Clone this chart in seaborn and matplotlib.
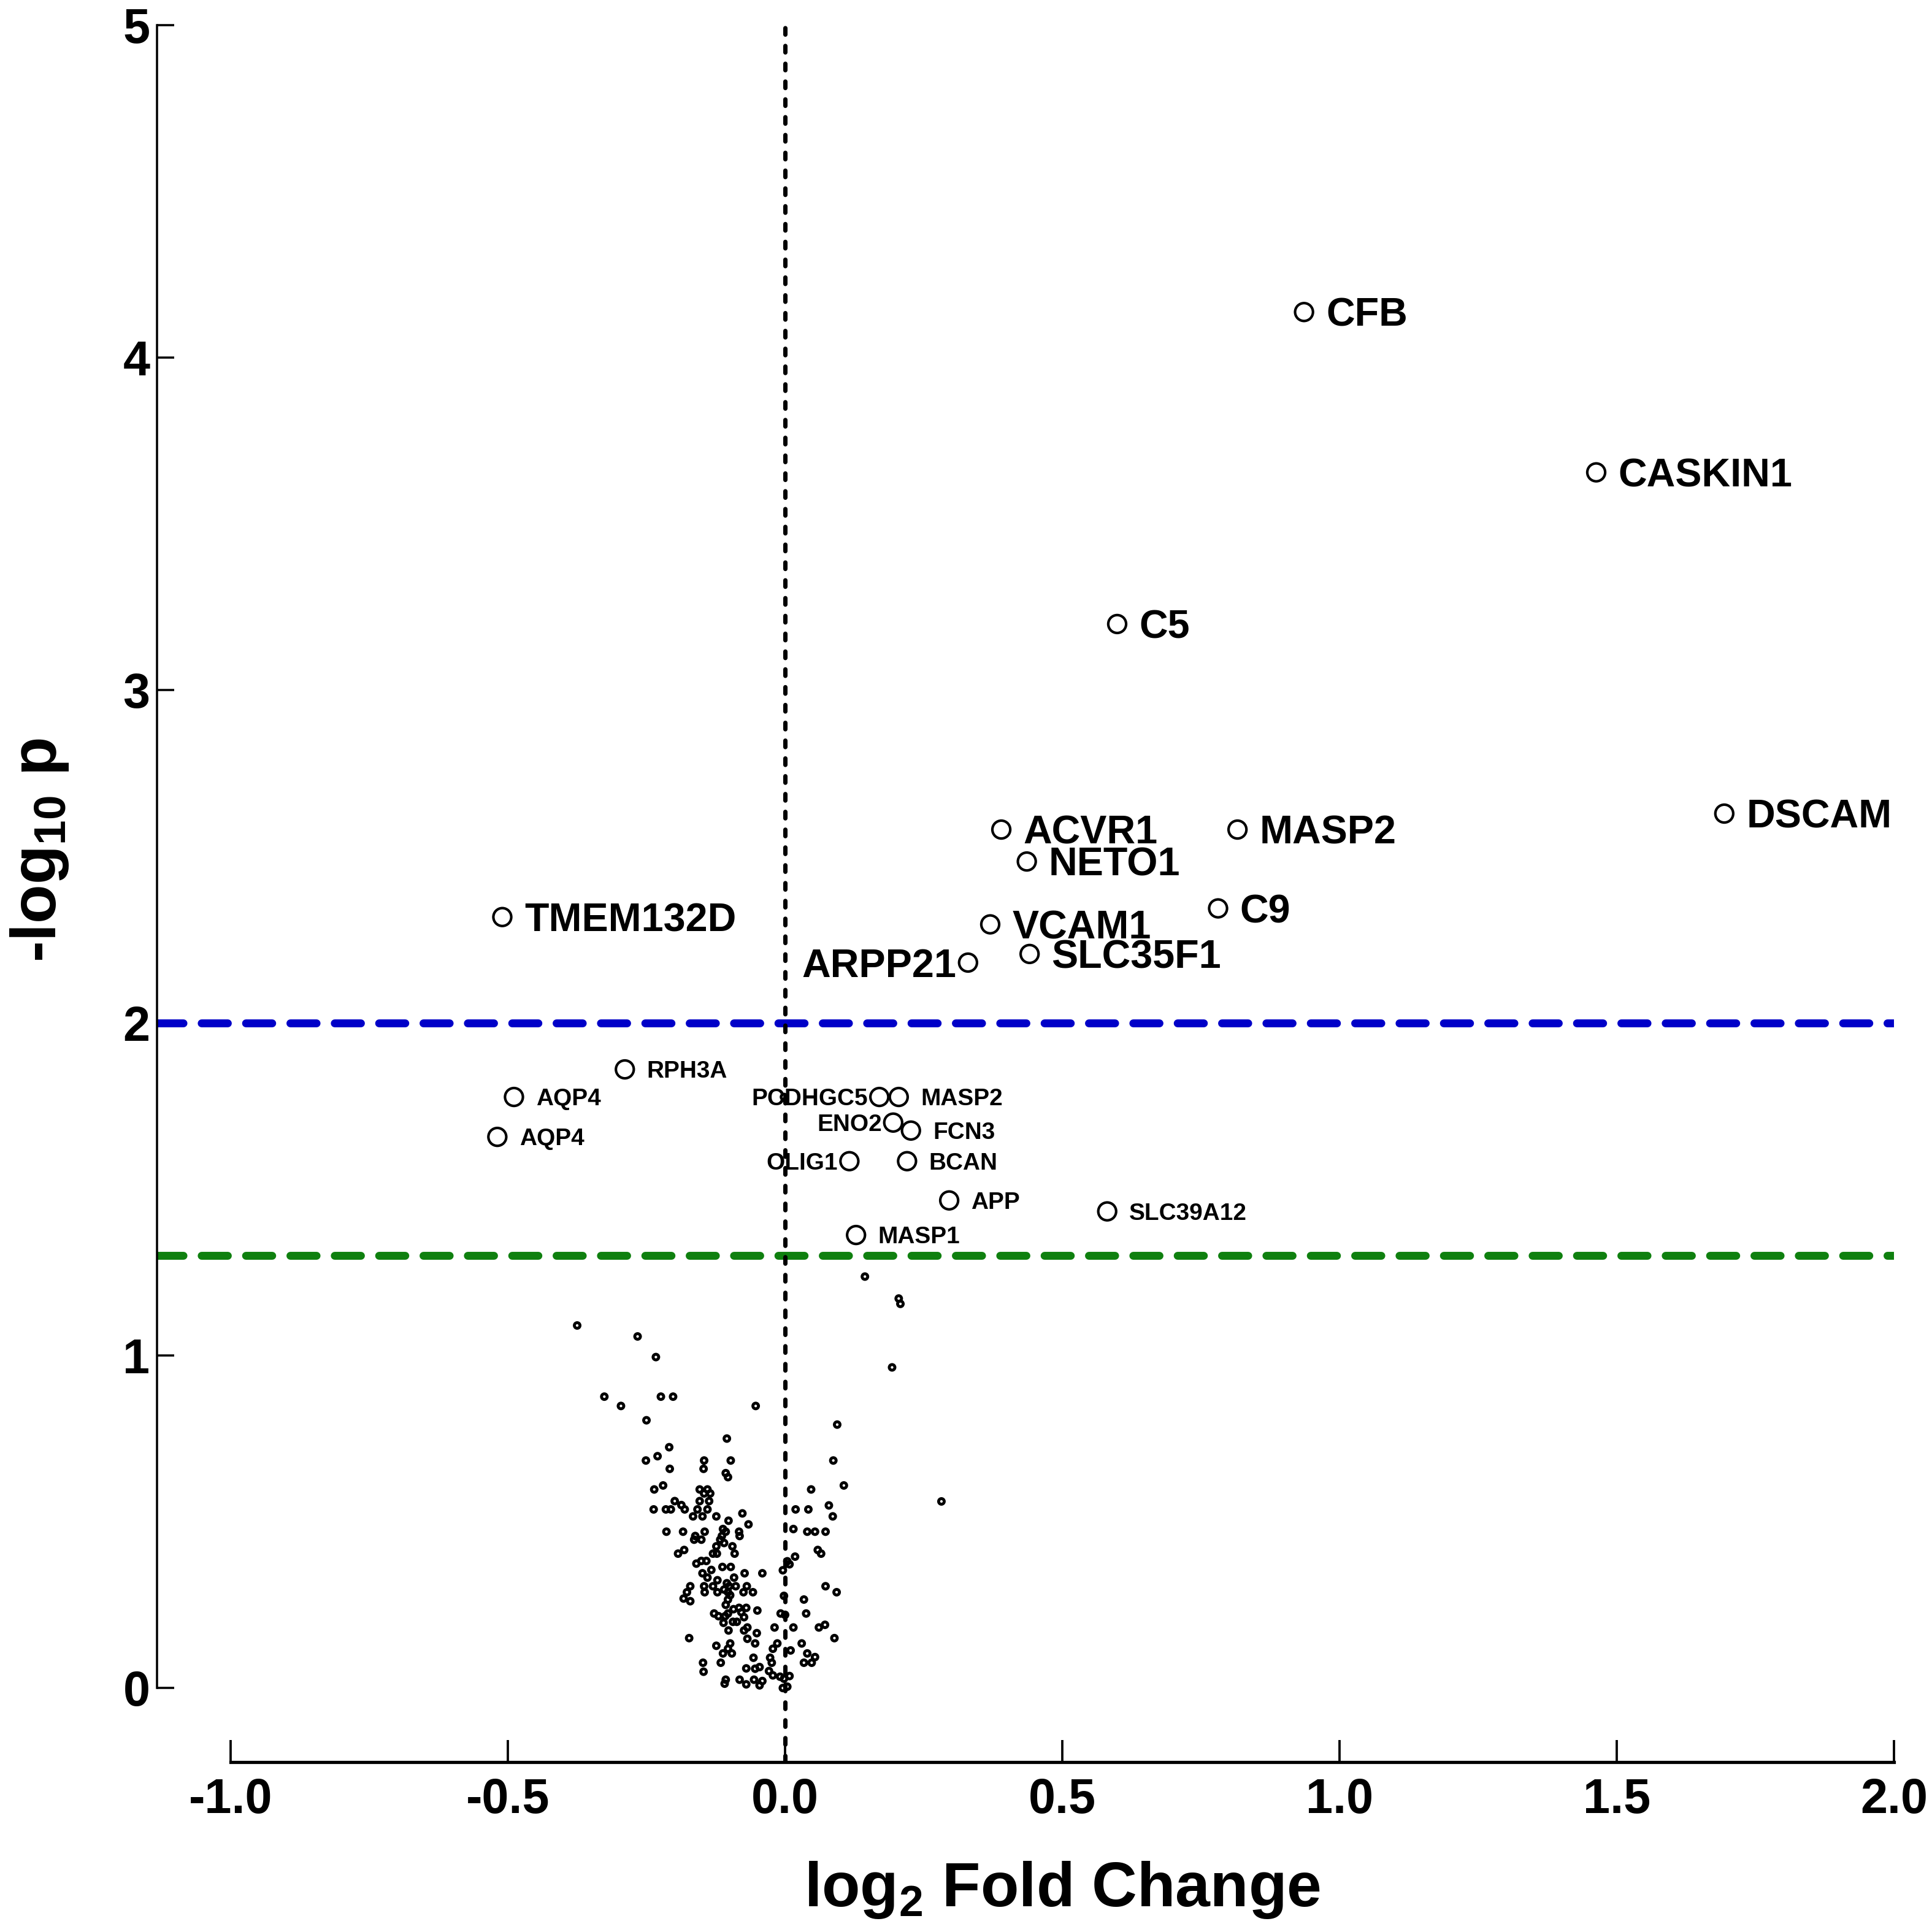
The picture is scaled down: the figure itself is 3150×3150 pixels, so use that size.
import numpy as np
import pandas as pd
import matplotlib
matplotlib.use("Agg")
import matplotlib.pyplot as plt
import seaborn as sns

# ---------------- data ----------------
sig_genes = ["CFB", "CASKIN1", "C5", "DSCAM", "ACVR1", "MASP2", "NETO1", "C9",
             "TMEM132D", "VCAM1", "SLC35F1", "ARPP21",
             "RPH3A", "AQP4", "AQP4", "PCDHGC5", "MASP2", "ENO2", "FCN3",
             "OLIG1", "BCAN", "APP", "SLC39A12", "MASP1"]
sig_lfc = [0.936, 1.463, 0.599, 1.694, 0.390, 0.816, 0.436, 0.781,
           -0.510, 0.370, 0.441, 0.330,
           -0.289, -0.489, -0.519, 0.170, 0.205, 0.195, 0.227,
           0.116, 0.220, 0.296, 0.581, 0.128]
sig_logp = [4.137, 3.655, 3.199, 2.629, 2.581, 2.581, 2.485, 2.344,
            2.318, 2.296, 2.207, 2.181,
            1.860, 1.777, 1.657, 1.777, 1.777, 1.700, 1.676,
            1.584, 1.584, 1.466, 1.433, 1.362]
label_side = ["r", "r", "r", "r", "r", "r", "r", "r",
              "r", "r", "r", "l",
              "r", "r", "r", "l", "r", "l", "r",
              "l", "r", "r", "r", "r"]
label_big = [True] * 12 + [False] * 12

bg_lfc = [-0.002,
          0.144, 0.205, 0.208, 0.193, -0.375, -0.266, -0.233, -0.326, -0.296,
          -0.224, -0.202, -0.053, -0.250, 0.094, -0.105, -0.209, -0.230, -0.251,
          -0.146, -0.098, 0.087, -0.208, -0.147, -0.107, -0.103, -0.236, -0.220,
          0.106, 0.047, 0.282, -0.154, -0.140, -0.146, -0.135, -0.154, -0.137,
          -0.237, -0.215, -0.206, -0.199, -0.187, -0.181, -0.158, -0.140, -0.166,
          -0.149, -0.124, -0.077, 0.019, 0.042, 0.079, 0.086, -0.102, -0.066,
          -0.214, -0.184, -0.145, -0.112, -0.107, -0.083, -0.082, 0.015, 0.040,
          0.054, 0.073, -0.162, -0.164, -0.151, -0.114, -0.117, -0.110, -0.095,
          -0.124, -0.091, -0.130, -0.123, -0.182, -0.193, 0.059, 0.065, 0.018,
          0.004, 0.008, -0.004, -0.160, -0.151, -0.142, -0.113, -0.098, -0.133,
          -0.149, -0.140, -0.122, -0.092, -0.073, -0.041, -0.171, -0.177, -0.183,
          -0.171, -0.146, -0.145, -0.130, -0.122, -0.105, -0.101, -0.110, -0.089,
          -0.103, -0.099, -0.103, -0.107, -0.069, -0.075, -0.058, -0.002, 0.073,
          0.093, 0.034, 0.038, -0.128, -0.120, -0.108, -0.103, -0.093, -0.083,
          -0.070, -0.079, -0.074, -0.087, -0.094, -0.111, -0.102, -0.050, -0.008,
          0.000, -0.019, 0.015, 0.061, 0.072, -0.074, -0.068, -0.051, -0.068,
          0.089, -0.173, -0.124, -0.099, -0.103, -0.112, -0.096, -0.054, -0.022,
          -0.014, 0.010, 0.030, 0.040, 0.054, 0.034, 0.048, -0.057, -0.027,
          -0.024, -0.148, -0.147, -0.116, -0.070, -0.054, -0.046, -0.029, -0.022,
          -0.009, -0.002, 0.008, -0.107, -0.109, -0.082, -0.070, -0.056, -0.046,
          -0.041, -0.004, 0.004]
bg_logp = [1.777,
           1.237, 1.171, 1.155, 0.964, 1.090, 1.057, 0.995, 0.876, 0.848,
           0.876, 0.876, 0.848, 0.805, 0.792, 0.750, 0.724, 0.697, 0.684,
           0.684, 0.684, 0.684, 0.659, 0.659, 0.646, 0.634, 0.597, 0.609,
           0.609, 0.597, 0.561, 0.597, 0.597, 0.585, 0.585, 0.562, 0.562,
           0.537, 0.537, 0.537, 0.562, 0.550, 0.537, 0.537, 0.537, 0.516,
           0.516, 0.516, 0.525, 0.537, 0.537, 0.549, 0.516, 0.503, 0.492,
           0.470, 0.470, 0.470, 0.478, 0.470, 0.470, 0.457, 0.478, 0.470,
           0.470, 0.470, 0.457, 0.446, 0.446, 0.457, 0.446, 0.436, 0.426,
           0.426, 0.404, 0.404, 0.404, 0.415, 0.404, 0.415, 0.404, 0.395,
           0.381, 0.372, 0.354, 0.374, 0.382, 0.382, 0.364, 0.364, 0.355,
           0.345, 0.332, 0.324, 0.332, 0.345, 0.345, 0.306, 0.288, 0.269,
           0.261, 0.306, 0.288, 0.306, 0.288, 0.315, 0.306, 0.296, 0.306,
           0.288, 0.279, 0.266, 0.250, 0.306, 0.288, 0.288, 0.277, 0.306,
           0.288, 0.266, 0.224, 0.224, 0.216, 0.216, 0.224, 0.237, 0.241,
           0.241, 0.228, 0.213, 0.199, 0.199, 0.196, 0.173, 0.233, 0.224,
           0.220, 0.182, 0.182, 0.182, 0.190, 0.173, 0.182, 0.165, 0.148,
           0.150, 0.150, 0.127, 0.134, 0.118, 0.104, 0.104, 0.134, 0.118,
           0.134, 0.113, 0.134, 0.104, 0.093, 0.076, 0.076, 0.091, 0.091,
           0.076, 0.076, 0.049, 0.076, 0.059, 0.058, 0.063, 0.051, 0.038,
           0.034, 0.028, 0.036, 0.025, 0.013, 0.025, 0.011, 0.025, 0.008,
           0.021, 0.000, 0.004]

x_ticks = [-1.0, -0.5, 0.0, 0.5, 1.0, 1.5, 2.0]
x_tick_labels = ["-1.0", "-0.5", "0.0", "0.5", "1.0", "1.5", "2.0"]
y_ticks = [0, 1, 2, 3, 4, 5]
y_tick_labels = ["0", "1", "2", "3", "4", "5"]
thresholds = [2.0, 1.301]
threshold_colors = ["#0000C8", "#0F800F"]

# ---------------- style ----------------
sns.set_style("ticks")
plt.rcParams["font.family"] = ["Liberation Sans", "DejaVu Sans"]
plt.rcParams["font.weight"] = "bold"
plt.rcParams["mathtext.fontset"] = "custom"
plt.rcParams["mathtext.rm"] = "Liberation Sans:bold"
plt.rcParams["mathtext.bf"] = "Liberation Sans:bold"
plt.rcParams["mathtext.it"] = "Liberation Sans:bold"
plt.rcParams["axes.unicode_minus"] = False
plt.rcParams["text.color"] = "black"
plt.rcParams["axes.labelcolor"] = "black"
plt.rcParams["axes.edgecolor"] = "black"
plt.rcParams["xtick.color"] = "black"
plt.rcParams["ytick.color"] = "black"

sig_df = pd.DataFrame({"gene": sig_genes, "lfc": sig_lfc, "logp": sig_logp,
                       "side": label_side, "big": label_big})
bg_df = pd.DataFrame({"lfc": bg_lfc, "logp": bg_logp})

fig = plt.figure(figsize=(10.5, 10.5), dpi=300)
ax = fig.add_axes([0.0813, 0.0879, 0.9803 - 0.0813, 0.9905 - 0.0879])

# threshold lines
for t, c in zip(thresholds, threshold_colors):
    ax.axhline(t, color=c, lw=3.1, linestyle=(0, (3.3, 2.3)),
               dash_capstyle="round", zorder=1)
ax.axvline(0, color="black", lw=1.7, linestyle=(0, (1.5, 2.6)),
           dash_capstyle="round", zorder=2)

# background points
sns.scatterplot(data=bg_df, x="lfc", y="logp", ax=ax, marker="o", s=2.2 ** 2,
                color="black", edgecolor="black", linewidth=1.15,
                legend=False, zorder=3)
ax.collections[-1].set_facecolor("none")

# significant points
sns.scatterplot(data=sig_df, x="lfc", y="logp", ax=ax, marker="o", s=7.0 ** 2,
                color="black", edgecolor="black", linewidth=1.0,
                legend=False, zorder=4)
ax.collections[-1].set_facecolor("none")

for _, r in sig_df.iterrows():
    fs = 15.5 if r["big"] else 9.3
    dy = -0.358 * fs
    if r["side"] == "r":
        ax.annotate(r["gene"], (r["lfc"], r["logp"]), xytext=(8.6, dy),
                    textcoords="offset points", ha="left", va="baseline",
                    fontsize=fs, fontweight="bold", color="black", zorder=5)
    else:
        ax.annotate(r["gene"], (r["lfc"], r["logp"]), xytext=(-4.5, dy),
                    textcoords="offset points", ha="right", va="baseline",
                    fontsize=fs, fontweight="bold", color="black", zorder=5)

# axes
ax.set_xlim(-1.1327, 2.0)
ax.set_ylim(-0.223, 5.02)
ax.set_xticks(x_ticks)
ax.set_xticklabels(x_tick_labels)
ax.set_yticks(y_ticks)
ax.set_yticklabels(y_tick_labels)
ax.spines["top"].set_visible(False)
ax.spines["right"].set_visible(False)
ax.spines["left"].set_bounds(0, 5)
ax.spines["bottom"].set_bounds(-1, 2)
ax.spines["left"].set_linewidth(0.85)
ax.spines["bottom"].set_linewidth(1.25)
ax.spines["left"].set_color("black")
ax.spines["bottom"].set_color("black")
ax.tick_params(axis="x", direction="in", length=8.6, width=0.9, pad=6,
               labelsize=19, colors="black")
ax.tick_params(axis="y", direction="in", length=6.7, width=0.85, pad=2.8,
               labelsize=19, colors="black")
for lab in ax.get_xticklabels() + ax.get_yticklabels():
    lab.set_fontweight("bold")

ax.set_xlabel(r"log$_{\mathbf{2}}$ Fold Change", fontsize=24.5,
              fontweight="bold", color="black")
ax.set_ylabel(r"-log$_{\mathbf{10}}$ p", fontsize=25, fontweight="bold",
              color="black")
ax.xaxis.set_label_coords(0.521, -0.056)
ax.yaxis.set_label_coords(-0.05, 0.523)

fig.savefig("out.png", dpi=300, facecolor="white")
